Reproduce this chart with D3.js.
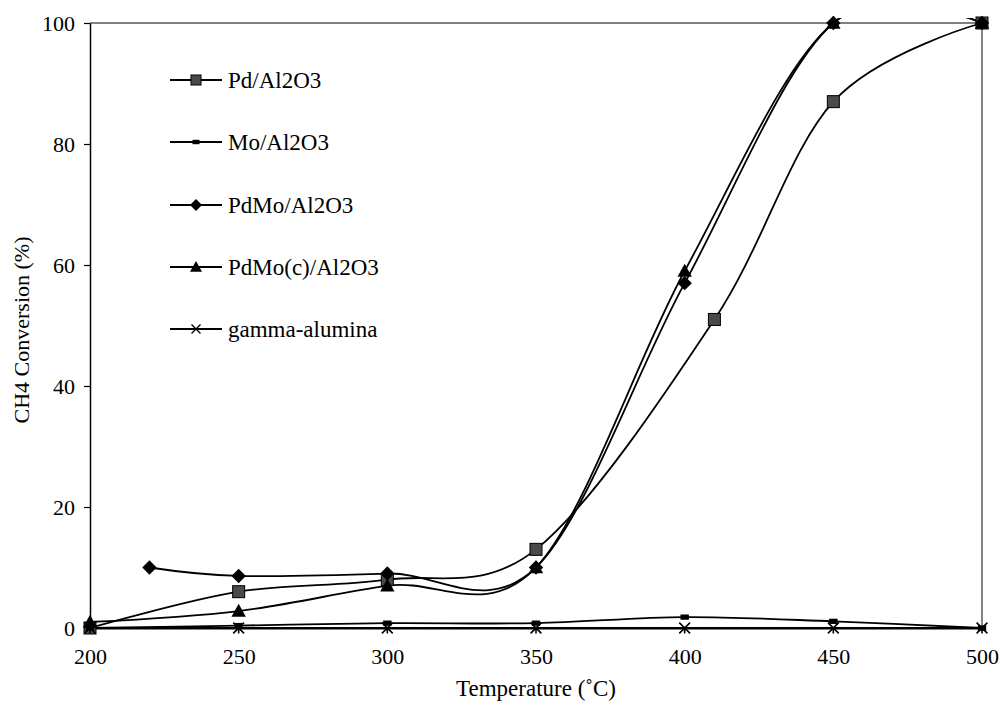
<!DOCTYPE html>
<html>
<head>
<meta charset="utf-8">
<script src="https://cdn.jsdelivr.net/npm/d3@7"></script>
<style>
body { margin: 0; background: #fff; }
text { font-family: "Liberation Serif", "Times New Roman", serif; fill: #000; }
</style>
</head>
<body>
<svg id="chart" width="1000" height="708"></svg>
<script>
//Data (temperature in C, conversion in %)
var seriesNames = ["Pd/Al2O3", "Mo/Al2O3", "PdMo/Al2O3", "PdMo(c)/Al2O3", "gamma-alumina"];
var pdTemp = [200, 250, 300, 350, 410, 450, 500];
var pdConv = [0, 6, 8, 13, 51, 87, 100];
var moTemp = [200, 250, 300, 350, 400, 450, 500];
var moConv = [0, 0.4, 0.8, 0.8, 1.8, 1.1, 0];
var pdmoTemp = [220, 250, 300, 350, 400, 450, 500];
var pdmoConv = [10, 8.6, 9, 10, 57, 100, 100];
var pdmocTemp = [200, 250, 300, 350, 400, 450, 500];
var pdmocConv = [1, 2.8, 7, 10, 59, 100, 100];
var gammaTemp = [200, 250, 300, 350, 400, 450, 500];
var gammaConv = [0, 0, 0, 0, 0, 0, 0];
var xTicks = [200, 250, 300, 350, 400, 450, 500];
var yTicks = [0, 20, 40, 60, 80, 100];

var svg = d3.select("#chart");

//Plot area
var plotLeft = 90, plotRight = 982, plotTop = 23, plotBottom = 628;

var x = d3.scaleLinear().domain([200, 500]).range([plotLeft, plotRight]);
var y = d3.scaleLinear().domain([0, 100]).range([plotBottom, plotTop]);

//Frame: grey top line and thin right line
svg.append("line")
    .attr("x1", plotLeft).attr("x2", plotRight)
    .attr("y1", plotTop).attr("y2", plotTop)
    .attr("stroke", "#808080").attr("stroke-width", 2);
svg.append("line")
    .attr("x1", plotRight).attr("x2", plotRight)
    .attr("y1", plotTop).attr("y2", plotBottom)
    .attr("stroke", "#333").attr("stroke-width", 1.2);

//Y axis with outward ticks
var yAxis = svg.append("g")
    .attr("transform", "translate(" + plotLeft + ",0)")
    .call(d3.axisLeft(y).tickValues(yTicks).tickSize(6).tickSizeOuter(0).tickPadding(9));
yAxis.select(".domain").attr("stroke", "#000").attr("stroke-width", 1.5);
yAxis.selectAll(".tick line").attr("stroke", "#000").attr("stroke-width", 1.2);
yAxis.selectAll("text").style("font-size", "22px").style("font-family", "Liberation Serif, serif");

//X axis: line only, labels without tick marks
var xAxis = svg.append("g")
    .attr("transform", "translate(0," + plotBottom + ")")
    .call(d3.axisBottom(x).tickValues(xTicks).tickSize(0).tickSizeOuter(0).tickPadding(20));
xAxis.select(".domain").attr("stroke", "#000").attr("stroke-width", 2);
xAxis.selectAll("text").style("font-size", "22px").style("font-family", "Liberation Serif, serif");

//Axis titles
svg.append("text")
    .attr("x", 536).attr("y", 696)
    .attr("text-anchor", "middle")
    .style("font-size", "23px")
    .text("Temperature (\u02daC)");
svg.append("text")
    .attr("transform", "translate(29,330) rotate(-90)")
    .attr("text-anchor", "middle")
    .style("font-size", "22px")
    .text("CH4 Conversion (%)");

//Clip so that the smoothed curves do not run far above 100
svg.append("clipPath").attr("id", "plotclip")
    .append("rect")
    .attr("x", plotLeft).attr("y", plotTop - 5)
    .attr("width", plotRight - plotLeft + 6).attr("height", plotBottom - plotTop + 8);

function pairs(ts, vs) {
    return ts.map(function (t, i) { return [t, vs[i]]; });
}

var series = [
    { name: seriesNames[0], pts: pairs(pdTemp, pdConv), marker: "square" },
    { name: seriesNames[1], pts: pairs(moTemp, moConv), marker: "dash" },
    { name: seriesNames[2], pts: pairs(pdmoTemp, pdmoConv), marker: "diamond" },
    { name: seriesNames[3], pts: pairs(pdmocTemp, pdmocConv), marker: "triangle" },
    { name: seriesNames[4], pts: pairs(gammaTemp, gammaConv), marker: "star" }
];

var line = d3.line()
    .x(function (d) { return x(d[0]); })
    .y(function (d) { return y(d[1]); })
    .curve(d3.curveCardinal.tension(0));

var lines = svg.append("g").attr("clip-path", "url(#plotclip)");
lines.selectAll("path")
    .data(series)
    .enter().append("path")
    .attr("d", function (d) { return line(d.pts); })
    .attr("fill", "none")
    .attr("stroke", "#000")
    .attr("stroke-width", 1.8);

//Draw one marker at (cx, cy), s = size
function drawMarker(g, type, cx, cy, s) {
    if (type == "square") {
        g.append("rect")
            .attr("x", cx - s / 2).attr("y", cy - s / 2)
            .attr("width", s).attr("height", s)
            .attr("fill", "#4a4a4a").attr("stroke", "#000").attr("stroke-width", 1);
    }
    else if (type == "dash") {
        g.append("rect")
            .attr("x", cx - s * 0.35).attr("y", cy - s * 0.22)
            .attr("width", s * 0.7).attr("height", s * 0.44)
            .attr("fill", "#000");
    }
    else if (type == "diamond") {
        var h = s * 0.6;
        g.append("path")
            .attr("d", "M" + cx + "," + (cy - h) + "L" + (cx + h) + "," + cy + "L" + cx + "," + (cy + h) + "L" + (cx - h) + "," + cy + "Z")
            .attr("fill", "#000");
    }
    else if (type == "triangle") {
        var t = s * 0.6;
        g.append("path")
            .attr("d", "M" + cx + "," + (cy - t) + "L" + (cx + t) + "," + (cy + t * 0.8) + "L" + (cx - t) + "," + (cy + t * 0.8) + "Z")
            .attr("fill", "#000");
    }
    else if (type == "star") {
        var r = s * 0.45;
        g.append("path")
            .attr("d", "M" + (cx - r) + "," + (cy - r) + "L" + (cx + r) + "," + (cy + r) +
                "M" + (cx - r) + "," + (cy + r) + "L" + (cx + r) + "," + (cy - r) +
                "M" + cx + "," + cy + "L" + cx + "," + (cy + r))
            .attr("stroke", "#000").attr("stroke-width", 1.6).attr("fill", "none");
    }
    else if (type == "cross") {
        var c = s * 0.45;
        g.append("path")
            .attr("d", "M" + (cx - c) + "," + (cy - c) + "L" + (cx + c) + "," + (cy + c) +
                "M" + (cx - c) + "," + (cy + c) + "L" + (cx + c) + "," + (cy - c))
            .attr("stroke", "#000").attr("stroke-width", 1.4).attr("fill", "none");
    }
}

//Data markers
var markers = svg.append("g");
series.forEach(function (sr) {
    sr.pts.forEach(function (p) {
        drawMarker(markers, sr.marker, x(p[0]), y(p[1]), 12);
    });
});

//Legend
var legendRows = [80, 142, 205, 267, 329];
var legend = svg.append("g");
series.forEach(function (sr, i) {
    var ly = legendRows[i];
    legend.append("line")
        .attr("x1", 170).attr("x2", 222)
        .attr("y1", ly).attr("y2", ly)
        .attr("stroke", "#000").attr("stroke-width", 1.8);
    drawMarker(legend, sr.marker == "star" ? "cross" : sr.marker, 196, ly, 10);
    legend.append("text")
        .attr("x", 228).attr("y", ly + 8)
        .style("font-size", "23px")
        .text(sr.name);
});
</script>
</body>
</html>
